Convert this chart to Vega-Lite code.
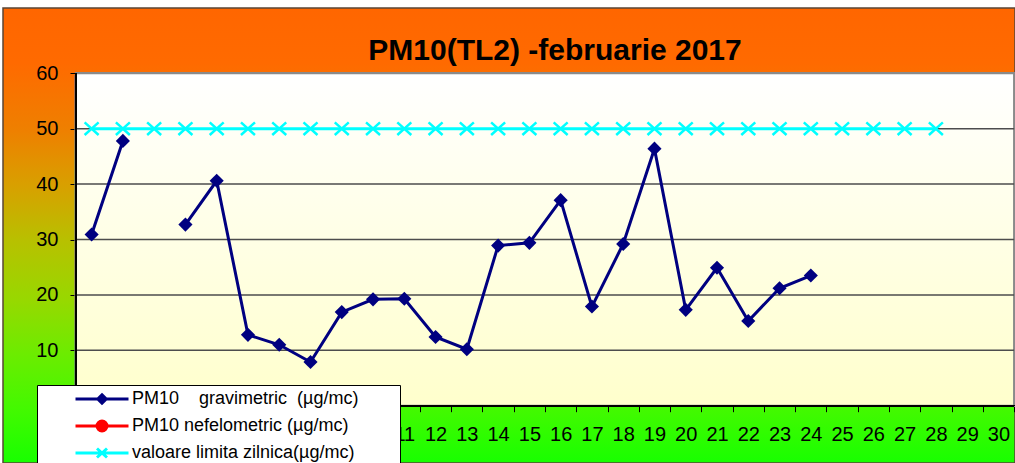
{
  "$schema": "https://vega.github.io/schema/vega-lite/v6.json",
  "width": 1012,
  "height": 455,
  "autosize": {"type": "none"},
  "padding": {"left": 3, "top": 8, "right": 0, "bottom": 0},
  "background": "white",
  "view": {
    "fill": {
      "gradient": "linear", "x1": 0, "y1": 0, "x2": 0, "y2": 1,
      "stops": [
        {"offset": 0, "color": "#FF6600"},
        {"offset": 0.12, "color": "#FF6A00"},
        {"offset": 0.27, "color": "#EE8000"},
        {"offset": 0.39, "color": "#D8A000"},
        {"offset": 0.51, "color": "#B8C000"},
        {"offset": 0.64, "color": "#98D800"},
        {"offset": 0.76, "color": "#6CEC00"},
        {"offset": 0.89, "color": "#40FA00"},
        {"offset": 1, "color": "#18FF00"}
      ]
    },
    "stroke": "#5a4636",
    "strokeWidth": 1.5
  },
  "title": {
    "text": "PM10(TL2) -februarie 2017",
    "font": "Liberation Sans",
    "fontSize": 30,
    "fontWeight": "bold",
    "color": "black",
    "anchor": "middle",
    "frame": "group",
    "dx": 46,
    "offset": -82,
    "baseline": "alphabetic"
  },
  "data": {
    "values": [
      {"day": 1, "value": 30.9, "series": "PM10\u00a0\u00a0\u00a0\u00a0gravimetric\u00a0\u00a0(µg/mc)"},
      {"day": 2, "value": 47.8, "series": "PM10\u00a0\u00a0\u00a0\u00a0gravimetric\u00a0\u00a0(µg/mc)"},
      {"day": 3, "value": null, "series": "PM10\u00a0\u00a0\u00a0\u00a0gravimetric\u00a0\u00a0(µg/mc)"},
      {"day": 4, "value": 32.7, "series": "PM10\u00a0\u00a0\u00a0\u00a0gravimetric\u00a0\u00a0(µg/mc)"},
      {"day": 5, "value": 40.6, "series": "PM10\u00a0\u00a0\u00a0\u00a0gravimetric\u00a0\u00a0(µg/mc)"},
      {"day": 6, "value": 12.8, "series": "PM10\u00a0\u00a0\u00a0\u00a0gravimetric\u00a0\u00a0(µg/mc)"},
      {"day": 7, "value": 11.0, "series": "PM10\u00a0\u00a0\u00a0\u00a0gravimetric\u00a0\u00a0(µg/mc)"},
      {"day": 8, "value": 7.9, "series": "PM10\u00a0\u00a0\u00a0\u00a0gravimetric\u00a0\u00a0(µg/mc)"},
      {"day": 9, "value": 16.9, "series": "PM10\u00a0\u00a0\u00a0\u00a0gravimetric\u00a0\u00a0(µg/mc)"},
      {"day": 10, "value": 19.2, "series": "PM10\u00a0\u00a0\u00a0\u00a0gravimetric\u00a0\u00a0(µg/mc)"},
      {"day": 11, "value": 19.3, "series": "PM10\u00a0\u00a0\u00a0\u00a0gravimetric\u00a0\u00a0(µg/mc)"},
      {"day": 12, "value": 12.4, "series": "PM10\u00a0\u00a0\u00a0\u00a0gravimetric\u00a0\u00a0(µg/mc)"},
      {"day": 13, "value": 10.2, "series": "PM10\u00a0\u00a0\u00a0\u00a0gravimetric\u00a0\u00a0(µg/mc)"},
      {"day": 14, "value": 28.9, "series": "PM10\u00a0\u00a0\u00a0\u00a0gravimetric\u00a0\u00a0(µg/mc)"},
      {"day": 15, "value": 29.4, "series": "PM10\u00a0\u00a0\u00a0\u00a0gravimetric\u00a0\u00a0(µg/mc)"},
      {"day": 16, "value": 37.1, "series": "PM10\u00a0\u00a0\u00a0\u00a0gravimetric\u00a0\u00a0(µg/mc)"},
      {"day": 17, "value": 17.9, "series": "PM10\u00a0\u00a0\u00a0\u00a0gravimetric\u00a0\u00a0(µg/mc)"},
      {"day": 18, "value": 29.2, "series": "PM10\u00a0\u00a0\u00a0\u00a0gravimetric\u00a0\u00a0(µg/mc)"},
      {"day": 19, "value": 46.4, "series": "PM10\u00a0\u00a0\u00a0\u00a0gravimetric\u00a0\u00a0(µg/mc)"},
      {"day": 20, "value": 17.3, "series": "PM10\u00a0\u00a0\u00a0\u00a0gravimetric\u00a0\u00a0(µg/mc)"},
      {"day": 21, "value": 24.9, "series": "PM10\u00a0\u00a0\u00a0\u00a0gravimetric\u00a0\u00a0(µg/mc)"},
      {"day": 22, "value": 15.3, "series": "PM10\u00a0\u00a0\u00a0\u00a0gravimetric\u00a0\u00a0(µg/mc)"},
      {"day": 23, "value": 21.2, "series": "PM10\u00a0\u00a0\u00a0\u00a0gravimetric\u00a0\u00a0(µg/mc)"},
      {"day": 24, "value": 23.5, "series": "PM10\u00a0\u00a0\u00a0\u00a0gravimetric\u00a0\u00a0(µg/mc)"},
      {"day": 1, "value": 50, "series": "valoare limita zilnica(µg/mc)"},
      {"day": 2, "value": 50, "series": "valoare limita zilnica(µg/mc)"},
      {"day": 3, "value": 50, "series": "valoare limita zilnica(µg/mc)"},
      {"day": 4, "value": 50, "series": "valoare limita zilnica(µg/mc)"},
      {"day": 5, "value": 50, "series": "valoare limita zilnica(µg/mc)"},
      {"day": 6, "value": 50, "series": "valoare limita zilnica(µg/mc)"},
      {"day": 7, "value": 50, "series": "valoare limita zilnica(µg/mc)"},
      {"day": 8, "value": 50, "series": "valoare limita zilnica(µg/mc)"},
      {"day": 9, "value": 50, "series": "valoare limita zilnica(µg/mc)"},
      {"day": 10, "value": 50, "series": "valoare limita zilnica(µg/mc)"},
      {"day": 11, "value": 50, "series": "valoare limita zilnica(µg/mc)"},
      {"day": 12, "value": 50, "series": "valoare limita zilnica(µg/mc)"},
      {"day": 13, "value": 50, "series": "valoare limita zilnica(µg/mc)"},
      {"day": 14, "value": 50, "series": "valoare limita zilnica(µg/mc)"},
      {"day": 15, "value": 50, "series": "valoare limita zilnica(µg/mc)"},
      {"day": 16, "value": 50, "series": "valoare limita zilnica(µg/mc)"},
      {"day": 17, "value": 50, "series": "valoare limita zilnica(µg/mc)"},
      {"day": 18, "value": 50, "series": "valoare limita zilnica(µg/mc)"},
      {"day": 19, "value": 50, "series": "valoare limita zilnica(µg/mc)"},
      {"day": 20, "value": 50, "series": "valoare limita zilnica(µg/mc)"},
      {"day": 21, "value": 50, "series": "valoare limita zilnica(µg/mc)"},
      {"day": 22, "value": 50, "series": "valoare limita zilnica(µg/mc)"},
      {"day": 23, "value": 50, "series": "valoare limita zilnica(µg/mc)"},
      {"day": 24, "value": 50, "series": "valoare limita zilnica(µg/mc)"},
      {"day": 25, "value": 50, "series": "valoare limita zilnica(µg/mc)"},
      {"day": 26, "value": 50, "series": "valoare limita zilnica(µg/mc)"},
      {"day": 27, "value": 50, "series": "valoare limita zilnica(µg/mc)"},
      {"day": 28, "value": 50, "series": "valoare limita zilnica(µg/mc)"}
    ]
  },
  "layer": [
    {
      "mark": {
        "type": "rect",
        "fill": {
          "gradient": "linear", "x1": 0, "y1": 0, "x2": 0, "y2": 1,
          "stops": [
            {"offset": 0, "color": "#FFFFFF"},
            {"offset": 1, "color": "#FFFFCC"}
          ]
        },
        "stroke": "#8a8a8a",
        "strokeWidth": 2
      },
      "encoding": {
        "x": {
          "datum": 0.5, "type": "quantitative",
          "scale": {"domain": [-1.834, 30.53], "nice": false, "zero": false},
          "axis": {
            "values": [1,2,3,4,5,6,7,8,9,10,11,12,13,14,15,16,17,18,19,20,21,22,23,24,25,26,27,28,29,30],
            "tickCount": 60,
            "format": "d",
            "title": null,
            "offset": -57.3,
            "domain": false,
            "grid": false,
            "tickSize": 6,
            "tickWidth": 1,
            "tickColor": "black",
            "tickOffset": 15.63,
            "labelOffset": -15.63,
            "labelFont": "Liberation Sans",
            "labelFontSize": 20,
            "labelColor": "black",
            "labelPadding": 13,
            "labelFlush": false,
            "labelOverlap": false,
            "labelBound": false
          }
        },
        "x2": {"datum": 30.5},
        "y": {
          "datum": 0, "type": "quantitative",
          "scale": {"domain": [-10.34, 71.79], "nice": false, "zero": false},
          "axis": {
            "values": [0, 10, 20, 30, 40, 50, 60],
            "tickCount": 20,
            "title": null,
            "offset": -73,
            "domain": false,
            "grid": false,
            "tickSize": 6,
            "tickWidth": 1,
            "tickColor": "black",
            "labelFont": "Liberation Sans",
            "labelFontSize": 20,
            "labelColor": "black",
            "labelPadding": 12,
            "labelFlush": false,
            "labelOverlap": false,
            "labelBound": false
          }
        },
        "y2": {"datum": 60}
      }
    },
    {
      "data": {"values": [{"value": 10}, {"value": 20}, {"value": 30}, {"value": 40}, {"value": 50}]},
      "mark": {"type": "rule", "color": "#4d4d4d", "strokeWidth": 1.5},
      "encoding": {
        "y": {"field": "value", "type": "quantitative"},
        "x": {"datum": 0.5},
        "x2": {"datum": 30.5}
      }
    },
    {
      "mark": {"type": "rule", "color": "black", "strokeWidth": 1.5},
      "encoding": {
        "x": {"datum": 0.5},
        "y": {"datum": 0},
        "y2": {"datum": 60}
      }
    },
    {
      "mark": {"type": "rule", "color": "black", "strokeWidth": 1.5},
      "encoding": {
        "y": {"datum": 0},
        "x": {"datum": 0.5},
        "x2": {"datum": 30.5}
      }
    },
    {
      "mark": {"type": "line", "strokeWidth": 3, "invalid": "break-paths-show-domains"},
      "encoding": {
        "x": {"field": "day", "type": "quantitative"},
        "y": {"field": "value", "type": "quantitative"},
        "color": {
          "field": "series",
          "type": "nominal",
          "scale": {
            "domain": ["PM10\u00a0\u00a0\u00a0\u00a0gravimetric\u00a0\u00a0(µg/mc)", "PM10 nefelometric (µg/mc)", "valoare limita zilnica(µg/mc)"],
            "range": ["#000080", "#FF0000", "#00FFFF"]
          },
          "legend": {
            "orient": "none",
            "legendX": 34,
            "legendY": 377,
            "title": "\u00a0",
            "titleOrient": "right",
            "titlePadding": 37,
            "titleFontSize": 10,
            "fillColor": "white",
            "strokeColor": "black",
            "padding": 5,
            "rowPadding": 5,
            "symbolSize": 100,
            "symbolStrokeWidth": 3,
            "symbolOffset": 51,
            "labelOffset": 21,
            "labelFont": "Liberation Sans",
            "labelFontSize": 18,
            "labelColor": "black",
            "labelLimit": 400,
            "encode": {
              "symbols": {
                "update": {
                  "shape": {"signal": "indexof(datum.value, 'valoare') >= 0 ? 'M-5.3,0L5.3,0M-1,-0.9L1,0.9M-1,0.9L1,-0.9' : (indexof(datum.value, 'nefelometric') >= 0 ? 'M-5.3,0L5.3,0M-1,0A1,1,0,1,1,1,0A1,1,0,1,1,-1,0Z' : 'M-5.3,0L5.3,0M0,-0.85L0.85,0L0,0.85L-0.85,0Z')"},
                  "fill": {"signal": "scale('color', datum.value)"},
                  "stroke": {"signal": "scale('color', datum.value)"},
                  "fillOpacity": {"value": 1},
                  "opacity": {"value": 1},
                  "strokeWidth": {"value": 3}
                }
              }
            }
          }
        }
      }
    },
    {
      "transform": [{"filter": "datum.series != 'valoare limita zilnica(µg/mc)' && datum.value != null"}],
      "mark": {"type": "point", "shape": "diamond", "filled": true, "color": "#000080", "size": 200, "opacity": 1},
      "encoding": {
        "x": {"field": "day", "type": "quantitative"},
        "y": {"field": "value", "type": "quantitative"}
      }
    },
    {
      "transform": [{"filter": "datum.series == 'valoare limita zilnica(µg/mc)'"}],
      "mark": {"type": "point", "shape": "M-1,-0.9L1,0.9M-1,0.9L1,-0.9", "filled": false, "color": "#00FFFF", "strokeWidth": 2.5, "size": 196, "opacity": 1},
      "encoding": {
        "x": {"field": "day", "type": "quantitative"},
        "y": {"field": "value", "type": "quantitative"}
      }
    }
  ]
}
